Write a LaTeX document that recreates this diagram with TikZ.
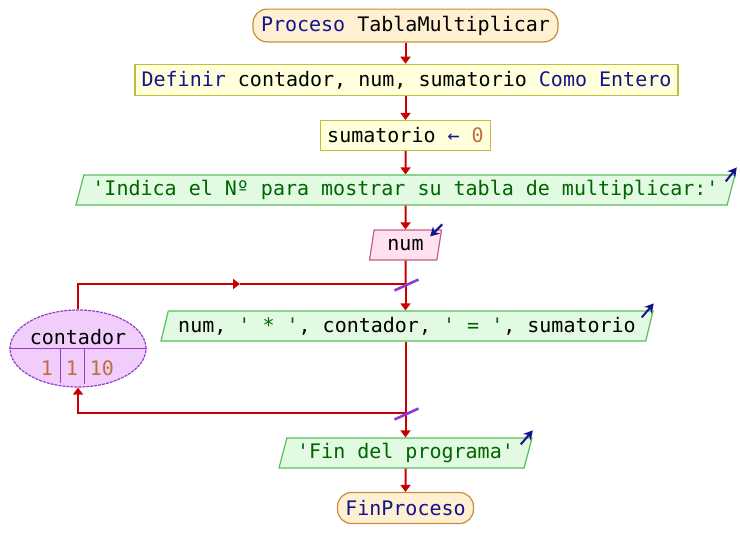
\documentclass[tikz,border=0pt]{standalone}
\usepackage{fontspec}
\setmonofont{DejaVu Sans Mono}
\usetikzlibrary{shapes.geometric, arrows.meta, calc}

\definecolor{flowred}{RGB}{200,0,0}
\definecolor{kwblue}{RGB}{20,20,140}
\definecolor{strcol}{RGB}{0,100,0}
\definecolor{numcol}{RGB}{190,110,60}
\definecolor{procfill}{RGB}{255,240,210}
\definecolor{procline}{RGB}{200,140,60}
\definecolor{deffill}{RGB}{255,255,220}
\definecolor{defline}{RGB}{190,190,60}
\definecolor{salfill}{RGB}{225,250,225}
\definecolor{salline}{RGB}{90,190,90}
\definecolor{entfill}{RGB}{255,225,240}
\definecolor{entline}{RGB}{200,90,140}
\definecolor{ciclofill}{RGB}{240,205,250}
\definecolor{cicloline}{RGB}{150,60,200}
\definecolor{marcacol}{RGB}{140,60,210}

\begin{document}
\begin{tikzpicture}[x=0.5pt, y=-0.5pt, font=\ttfamily\fontsize{10}{12}\selectfont,
    line/.style={draw=flowred, line width=1pt},
    flow/.style={line, -{Triangle[length=3.5pt, width=5pt]}},
    proc/.style={draw=procline, fill=procfill, line width=0.6pt, rounded corners=7pt, minimum height=15.5pt},
    accion/.style={draw=defline, fill=deffill, line width=0.6pt, minimum height=15pt},
    salida/.style={trapezium, trapezium left angle=68, trapezium right angle=112, trapezium stretches body,
        draw=salline, fill=salfill, line width=0.6pt, minimum height=15pt, inner ysep=0pt},
    entrada/.style={salida, draw=entline, fill=entfill},
    ciclo/.style={ellipse, draw=cicloline, fill=ciclofill, line width=0.6pt, dash pattern=on 1.5pt off 0.5pt,
        minimum width=68pt, minimum height=38.5pt, inner sep=0pt},
    marca/.style={draw=marcacol, line width=1.3pt},
    eflecha/.style={draw=kwblue, line width=1pt, -{Stealth[length=4.5pt, width=5pt]}}]
    \useasboundingbox (0,0) rectangle (740,558);

    % Nodos
    \node[proc, minimum width=152.5pt] (inicio) at (405.5,25.5) {\textcolor{kwblue}{Proceso} TablaMultiplicar};
    \node[accion, minimum width=270.5pt] (definir) at (406.5,80) {\textcolor{kwblue}{Definir} contador, num, sumatorio \textcolor{kwblue}{Como Entero}};
    \node[accion, minimum width=84.5pt] (asig) at (405.5,135.5) {sumatorio \textcolor{kwblue}{←} \textcolor{numcol}{0}};
    \node[salida, minimum width=329.5pt] (msj) at (405.5,190) {\textcolor{strcol}{'Indica el Nº para mostrar su tabla de multiplicar:'}};
    \node[entrada, minimum width=36pt] (leer) at (405.5,245) {num};
    \node[salida, minimum width=246pt] (tabla) at (407,326) {num, \textcolor{strcol}{' * '}, contador, \textcolor{strcol}{' = '}, sumatorio};
    \node[salida, minimum width=126.5pt] (fin) at (405.5,453) {\textcolor{strcol}{'Fin del programa'}};
    \node[proc, minimum width=68pt] (finproc) at (405.5,508) {\textcolor{kwblue}{FinProceso}};

    % Ciclo Para
    \node[ciclo] (cont) at (78,348.5) {};
    \draw[draw=cicloline, line width=0.5pt] (cont.west) -- (cont.east)
        (60,348.5) -- (60,383) (84,348.5) -- (84,384);
    \node (cnom) at (78,337) {contador};
    \node[text=numcol] (cini) at (47,368) {1};
    \node[text=numcol] (cpaso) at (72,368) {1};
    \node[text=numcol] (cfin) at (102,368) {10};

    \coordinate (jt) at (405.5,284);
    \coordinate (jb) at (405.5,413);
    \coordinate (ar) at (240,284);

    % Flechas
    \draw[flow] (inicio) -- (inicio |- definir.north);
    \draw[flow] (inicio |- definir.south) -- (asig);
    \draw[flow] (asig) -- (msj);
    \draw[flow] (msj) -- (leer);
    \draw[line] (leer) -- (jt);
    \draw[flow] (jt) -- (jt |- tabla.north);
    \draw[flow] (cont.north) |- (ar);
    \draw[line] (ar) -- (jt);
    \draw[line] (jb |- tabla.south) -- (jb);
    \draw[flow] (jb) -| (cont.south);
    \draw[flow] (jb) -- (fin);
    \draw[flow] (fin) -- (finproc);

    % Marcas del ciclo
    \draw[marca] ($(jt)+(-11,6.5)$) -- ($(jt)+(13,-4.5)$);
    \draw[marca] ($(jb)+(-11,6.5)$) -- ($(jb)+(13,-4.5)$);

    % Entrada / salida
    \draw[eflecha] ($(msj.top right corner)+(-10,7)$) -- ($(msj.top right corner)+(1,-7)$);
    \draw[eflecha] ($(tabla.top right corner)+(-12,7)$) -- ($(tabla.top right corner)+(0,-7)$);
    \draw[eflecha] ($(fin.top right corner)+(-12,7)$) -- ($(fin.top right corner)+(0,-7)$);
    \draw[eflecha] ($(leer.top right corner)+(0,-5)$) -- ($(leer.top right corner)+(-12,7)$);
\end{tikzpicture}
\end{document}
